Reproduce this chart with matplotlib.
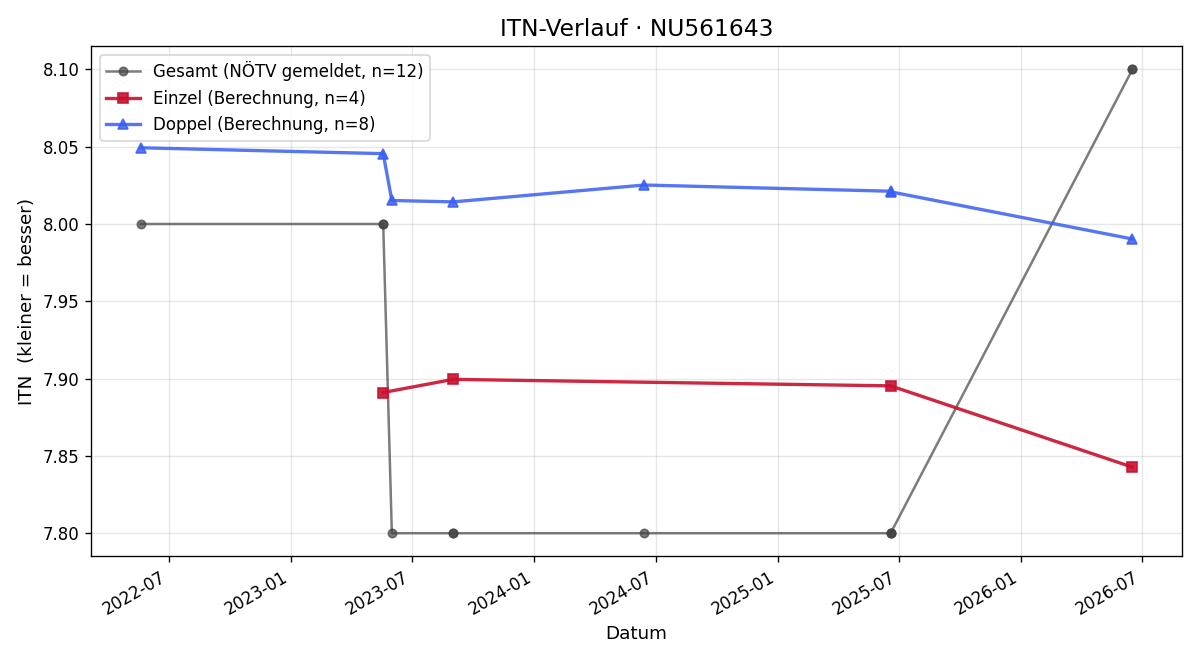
import numpy as np
import pandas as pd
import matplotlib
matplotlib.use("Agg")
import matplotlib.pyplot as plt
import matplotlib.dates as mdates

# Gesamt (all matches, NÖTV reported)
gesamt_dates = ["2022-05-20", "2023-05-19", "2023-05-19", "2023-06-01", "2023-09-01",
                "2023-09-01", "2024-06-14", "2025-06-19", "2025-06-19", "2025-06-19",
                "2026-06-17", "2026-06-17"]
gesamt_itn = [8.00, 8.00, 8.00, 7.80, 7.80, 7.80, 7.80, 7.80, 7.80, 7.80, 8.10, 8.10]

einzel_dates = ["2023-05-19", "2023-09-01", "2025-06-19", "2026-06-17"]
einzel_itn = [7.891, 7.8995, 7.8953, 7.8427]

doppel_dates = ["2022-05-20", "2023-05-19", "2023-06-01", "2023-09-01", "2024-06-14",
                "2025-06-19", "2025-06-19", "2026-06-17"]
doppel_itn = [8.0493, 8.0455, 8.0152, 8.0143, 8.0252, 8.0212, 8.0208, 7.9903]

fig, ax = plt.subplots(figsize=(10, 5.5), dpi=120)

ax.plot(pd.to_datetime(gesamt_dates), gesamt_itn, marker="o", color="#444444", alpha=0.7,
        linewidth=1.5, markersize=5, label="Gesamt (NÖTV gemeldet, n=12)")
ax.plot(pd.to_datetime(einzel_dates), einzel_itn, marker="s", color="#c8102e", alpha=0.9,
        linewidth=2, markersize=6, label="Einzel (Berechnung, n=4)")
ax.plot(pd.to_datetime(doppel_dates), doppel_itn, marker="^", color="#3a5ef0", alpha=0.85,
        linewidth=2, markersize=6, label="Doppel (Berechnung, n=8)")

ax.xaxis.set_major_locator(mdates.MonthLocator(bymonth=[1, 7]))
ax.xaxis.set_major_formatter(mdates.DateFormatter("%Y-%m"))
ax.set_title("ITN-Verlauf · NU561643", fontsize=14)
ax.set_xlabel("Datum", fontsize=11)
ax.set_ylabel("ITN  (kleiner = besser)", fontsize=11)
ax.tick_params(labelsize=10)
ax.grid(True, alpha=0.3)
ax.legend(loc="upper left", fontsize=10)
fig.autofmt_xdate()
fig.subplots_adjust(left=0.076, right=0.985, top=0.93, bottom=0.157)
fig.savefig("out.png")
